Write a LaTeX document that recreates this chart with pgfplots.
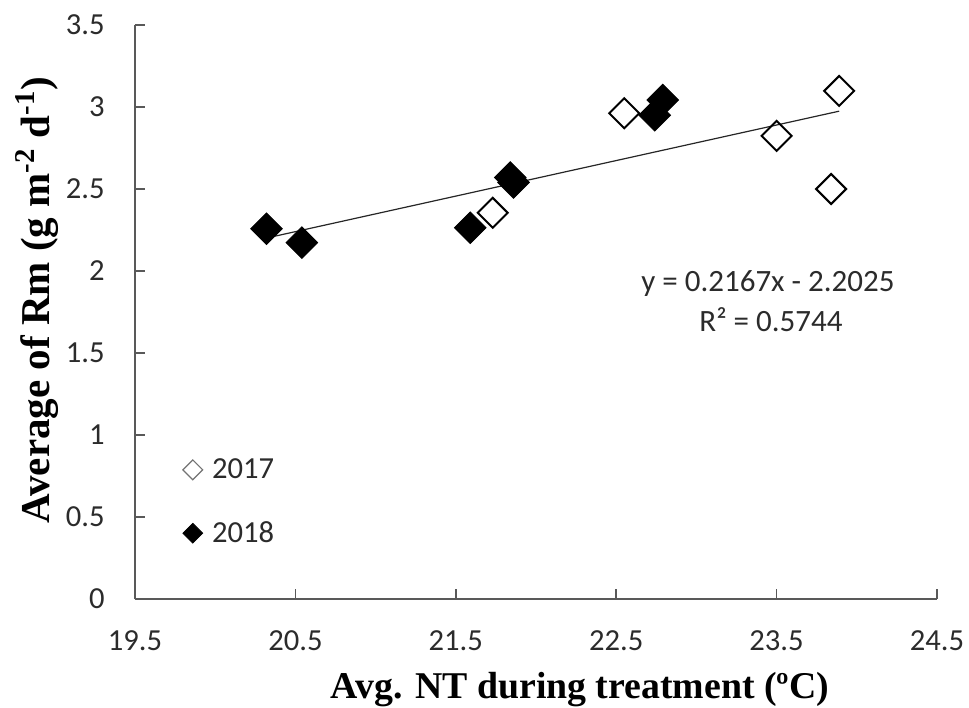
\documentclass[border=0pt]{standalone}
\usepackage{pgfplots}
\pgfplotsset{compat=1.18}
\usepackage{fontspec}
\setmainfont{Carlito}
\newfontfamily\labelfont{Liberation Serif}

\definecolor{axisgray}{HTML}{595959}
\definecolor{textgray}{HTML}{2B2B2B}

\pgfplotstableread{
x      y
21.73  2.355
22.55  2.962
23.50  2.824
23.89  3.098
23.84  2.500
}\dataA

\pgfplotstableread{
x      y
20.32  2.258
20.54  2.173
21.59  2.264
21.84  2.570
21.86  2.540
22.74  2.950
22.79  3.043
}\dataB

\begin{document}
\begin{tikzpicture}
\path[use as bounding box] (-67.5pt,-54pt) rectangle (417pt,299.5pt);
\begin{axis}[
  at={(0pt,0pt)}, anchor=south west,
  scale only axis, width=401pt, height=287pt,
  xmin=19.5, xmax=24.5, ymin=0, ymax=3.5,
  xtick={19.5,20.5,21.5,22.5,23.5,24.5},
  ytick={0,0.5,1,1.5,2,2.5,3,3.5},
  axis x line*=bottom, axis y line*=left,
  tick align=inside, major tick length=5pt,
  axis line style={axisgray, line width=0.75pt},
  tick style={axisgray, line width=0.75pt},
  /pgf/number format/assume math mode=true,
  tick label style={font=\fontsize{15.3}{18}\selectfont, text=textgray},
  yticklabel style={anchor=east, inner sep=0pt, xshift=-15pt},
  xticklabel style={anchor=north, inner sep=0pt, yshift=-15.5pt},
  xlabel={\labelfont\bfseries Avg. NT during treatment (ºC)},
  ylabel={\labelfont\bfseries Average of Rm (g m\textsuperscript{-2} d\textsuperscript{-1})},
  xlabel style={font=\fontsize{18.9}{22}\selectfont, at={(axis description cs:0.555,0)}, anchor=base, yshift=-49.5pt},
  ylabel style={font=\fontsize{20.5}{24}\selectfont, at={(axis description cs:-0.1222,0.521)}, anchor=center},
  legend image code/.code={
    \path (0pt,0pt) (19pt,0pt);
    \draw[mark repeat=2, mark phase=2, #1] plot coordinates {(0pt,0pt) (9.5pt,0pt) (19pt,0pt)};
  },
  legend style={draw=none, fill=none, at={(axis description cs:0.0399,0.2526)}, anchor=north west,
    nodes={inner sep=0pt, text=textgray, font=\fontsize{15.3}{18}\selectfont},
    row sep=20pt},
  legend cell align=left,
  clip=false,
]
% legend entries
\addlegendimage{only marks, mark=square, mark size=3.5pt, mark options={rotate=45, draw=black!55, fill=white, line width=0.6pt}}
\addlegendentry{2017}
\addlegendimage{only marks, mark=square*, mark size=3.5pt, mark options={rotate=45, draw=black, fill=black}}
\addlegendentry{2018}

% 2017 (open diamonds)
\addplot[only marks, mark=square, mark size=5.3pt,
  mark options={rotate=45, draw=black, fill=white, line width=1pt}, forget plot]
  table[x=x, y=y] {\dataA};
% 2018 (filled diamonds)
\addplot[only marks, mark=square*, mark size=5.6pt,
  mark options={rotate=45, draw=black, fill=black}, forget plot]
  table[x=x, y=y] {\dataB};
% linear trend y = 0.2167x - 2.2025 over the data range
\addplot[black!85, line width=0.6pt, forget plot] coordinates {(20.32,2.2010) (23.89,2.9746)};

\node[anchor=base, text=textgray, font=\fontsize{15.5}{18}\selectfont] at (axis cs:23.446,1.872) {y = 0.2167x - 2.2025};
\node[anchor=base, text=textgray, font=\fontsize{15.5}{18}\selectfont] at (axis cs:23.465,1.629) {R² = 0.5744};
\end{axis}
\end{tikzpicture}
\end{document}
